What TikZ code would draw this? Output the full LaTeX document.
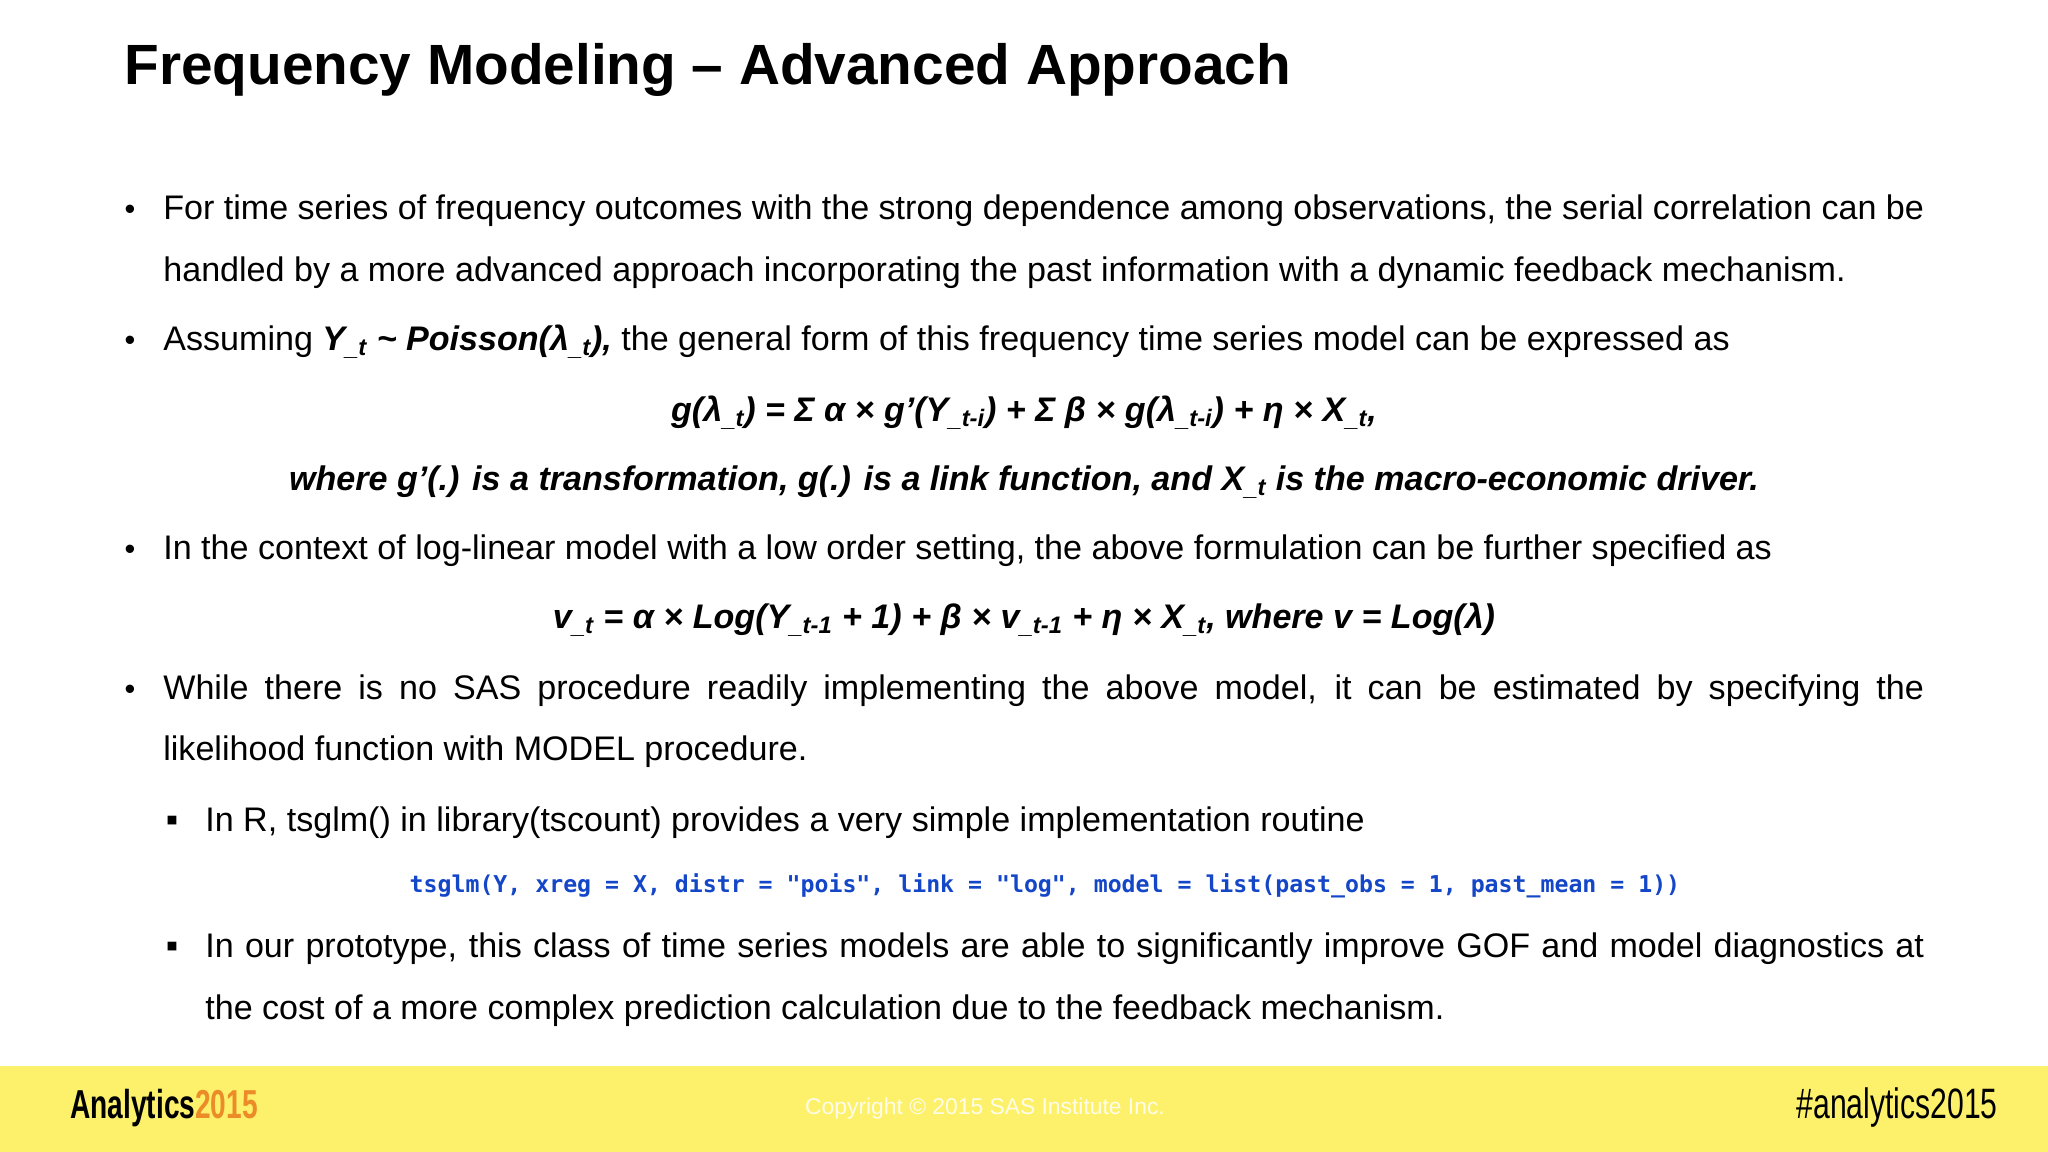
\documentclass[tikz,border=0pt]{standalone}
\usepackage{fontspec}
\setmainfont{Liberation Sans}
\newfontfamily\codefont{DejaVu Sans Mono}
\definecolor{footy}{RGB}{253,241,107}
\definecolor{codeblue}{RGB}{20,70,200}
\definecolor{orng}{RGB}{236,140,40}
\newcommand{\sbt}[1]{\textsubscript{\_#1}}
\begin{document}
\begin{tikzpicture}[x=0.02cm,y=-0.02cm,
  body/.style={anchor=base west,inner sep=0,font=\fontsize{19.4}{23}\selectfont},
  ctr/.style={anchor=base,inner sep=0,font=\fontsize{19.4}{23}\selectfont\bfseries\itshape},
  bul/.style={anchor=base,inner sep=0,font=\fontsize{17.5}{21}\selectfont},
  sq/.style={anchor=base,inner sep=0,font=\fontsize{20}{24}\selectfont}]
\useasboundingbox (0,0) rectangle (2048,1152);
\fill[white] (0,0) rectangle (2048,1152);
\fill[footy] (0,1066) rectangle (2048,1152);
\node[anchor=base west,inner sep=0,font=\fontsize{32.3}{38}\selectfont\bfseries] (title) at (124,85) {Frequency Modeling -- Advanced Approach};
% bullet 1
\node[bul] (b1) at (130,219) {•};
\node[body] (l1) at (163,219) {\makebox[35.22cm][s]{For time series of frequency outcomes with the strong dependence among observations, the serial correlation can be}};
\node[body] (l2) at (163,281) {handled by a more advanced approach incorporating the past information with a dynamic feedback mechanism.};
% bullet 2
\node[bul] (b2) at (130,350) {•};
\node[body] (l3) at (163,350) {Assuming \textbf{\textit{Y\sbt{t} \textasciitilde\ Poisson(λ\sbt{t}),}} the general form of this frequency time series model can be expressed as};
\node[ctr] (f1) at (1024,421) {g(λ\sbt{t}) = Σ α × g’(Y\sbt{t-i}) + Σ β × g(λ\sbt{t-i}) + η × X\sbt{t},};
\node[ctr] (f2) at (1024,490) {where g’(.) is a transformation, g(.) is a link function, and X\sbt{t} is the macro-economic driver.};
% bullet 3
\node[bul] (b3) at (130,559) {•};
\node[body] (l4) at (163,559) {In the context of log-linear model with a low order setting, the above formulation can be further specified as};
\node[ctr] (f3) at (1024,628) {v\sbt{t} = α × Log(Y\sbt{t-1} + 1) + β × v\sbt{t-1} + η × X\sbt{t}, where v = Log(λ)};
% bullet 4
\node[bul] (b4) at (130,699) {•};
\node[body] (l5) at (163,699) {\makebox[35.22cm][s]{While there is no SAS procedure readily implementing the above model, it can be estimated by specifying the}};
\node[body] (l6) at (163,760) {likelihood function with MODEL procedure.};
% sub bullets
\node[sq] (s1) at (172,831) {▪};
\node[body] (l7) at (205,831) {In R, tsglm() in library(tscount) provides a very simple implementation routine};
\node[anchor=base,inner sep=0,text=codeblue,font=\fontsize{13.2}{16}\selectfont\codefont\bfseries] (code) at (1045,892) {tsglm(Y, xreg = X, distr = "pois", link = "log", model = list(past\_obs = 1, past\_mean = 1))};
\node[sq] (s2) at (172,957) {▪};
\node[body] (l8) at (205,957) {\makebox[34.38cm][s]{In our prototype, this class of time series models are able to significantly improve GOF and model diagnostics at}};
\node[body] (l9) at (205,1019) {the cost of a more complex prediction calculation due to the feedback mechanism.};
% footer
\node[anchor=base west,inner sep=0,font=\fontsize{20}{24}\selectfont\bfseries] (logo) at (70,1118) {\scalebox{0.8}[1.15]{Analytics\textcolor{orng}{2015}}};
\node[anchor=base,inner sep=0,text=white!85!footy,font=\fontsize{13}{15}\selectfont] (copy) at (985,1114) {Copyright © 2015 SAS Institute Inc.};
\node[anchor=base east,inner sep=0,font=\fontsize{22}{26}\selectfont] (hash) at (1998,1118) {\scalebox{0.78}[1.1]{\#analytics2015}};
\end{tikzpicture}
\end{document}
